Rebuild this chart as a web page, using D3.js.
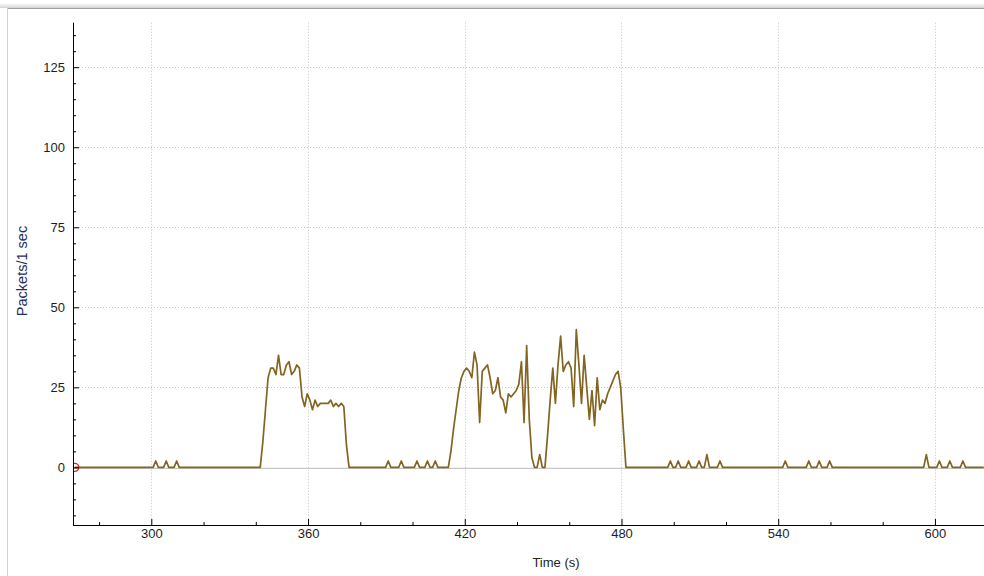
<!DOCTYPE html>
<html>
<head>
<meta charset="utf-8">
<script src="https://cdn.jsdelivr.net/npm/d3@7"></script>
<style>
  body { margin: 0; background: #fff; }
  svg { display: block; font-family: "Liberation Sans", Arial, sans-serif; }
</style>
</head>
<body>
<div id="chart"></div>
<script>
// samples are taken every second, 0.7 s after each whole second
const timeOffset = 0.7;
const firstSecond = 270;
const lastSecond = 618;

// first burst, one value per second from burstAStart
const burstAStart = 341;
const burstA = [0, 8, 18, 28, 31, 31, 29, 35, 29, 29, 32, 33, 29, 30, 32, 31, 22, 19, 23, 21,
                18, 21, 19, 20, 20, 20, 20, 21, 19, 20, 19, 20, 19, 7, 0];

// second burst, one value per second from burstBStart
const burstBStart = 413;
const burstB = [0, 5, 12, 18, 24, 28, 30, 31, 30, 28, 36, 32, 14, 30, 31, 32, 28, 23, 24, 28,
                22, 21, 17, 23, 22, 23, 24, 26, 33, 14, 38, 15, 3, 0, 0, 4, 0, 0, 10, 21,
                31, 20, 32, 41, 30, 32, 33, 31, 19, 43, 32, 20, 35, 25, 15, 24, 13, 28, 18, 21,
                20, 23, 25, 27, 29, 30, 25, 12, 0];

// single-second blips
const blipSeconds = [301, 305, 309, 390, 395, 401, 405, 408, 498, 501, 505, 509, 512, 517,
                     542, 551, 555, 559, 596, 601, 605, 610];
const blipCounts  = [2, 2, 2, 2, 2, 2, 2, 2, 2, 2, 2, 2, 4, 2,
                     2, 2, 2, 2, 4, 2, 2, 2];

const xTicks = [300, 360, 420, 480, 540, 600];
const yTicks = [0, 25, 50, 75, 100, 125];

function buildSeries() {
    const series = [];
    for (let s = firstSecond; s <= lastSecond; s++) {
        let v = 0;
        if (s >= burstAStart && s < burstAStart + burstA.length) v = burstA[s - burstAStart];
        if (s >= burstBStart && s < burstBStart + burstB.length) v = burstB[s - burstBStart];
        const b = blipSeconds.indexOf(s);
        if (b >= 0) v = blipCounts[b];
        series.push({ time: s + timeOffset, packets: v });
    }
    return series;
}

const width = 984, height = 576;
const plot = { left: 73, right: 984, top: 22.7, bottom: 525 };
const data = buildSeries();

const svg = d3.select("#chart")
    .append("svg")
    .attr("width", width)
    .attr("height", height);

//Frame
const defs = svg.append("defs");
const grad = defs.append("linearGradient")
    .attr("id", "shade").attr("x1", 0).attr("x2", 0).attr("y1", 0).attr("y2", 1);
grad.append("stop").attr("offset", "0%").attr("stop-color", "#ffffff");
grad.append("stop").attr("offset", "100%").attr("stop-color", "#d4d4d4");
svg.append("rect")
    .attr("x", 0).attr("y", 3).attr("width", width).attr("height", 5)
    .attr("fill", "url(#shade)");
svg.append("line")
    .attr("x1", 7).attr("x2", width).attr("y1", 8.5).attr("y2", 8.5)
    .attr("stroke", "#a0a0a0");
svg.append("line")
    .attr("x1", 7.5).attr("x2", 7.5).attr("y1", 8).attr("y2", height)
    .attr("stroke", "#d0d0d0");

defs.append("clipPath").attr("id", "plotClip")
    .append("rect")
    .attr("x", plot.left).attr("y", plot.top)
    .attr("width", plot.right - plot.left).attr("height", plot.bottom - plot.top);

// Scales
const xScale = d3.scaleLinear()
    .domain([270.02, 618.78])
    .range([plot.left, plot.right]);

const yScale = d3.scaleLinear()
    .domain([-18.0, 138.9])
    .range([plot.bottom, plot.top]);

//Grid
const grid = svg.append("g").attr("stroke", "#c4c4c4").attr("stroke-dasharray", "1,2");
grid.selectAll(".vgrid")
    .data(xTicks)
    .enter().append("line")
    .attr("x1", d => Math.round(xScale(d)) + 0.5)
    .attr("x2", d => Math.round(xScale(d)) + 0.5)
    .attr("y1", plot.top).attr("y2", plot.bottom);
grid.selectAll(".hgrid")
    .data(yTicks.filter(d => d !== 0))
    .enter().append("line")
    .attr("y1", d => Math.round(yScale(d)) + 0.5)
    .attr("y2", d => Math.round(yScale(d)) + 0.5)
    .attr("x1", plot.left).attr("x2", plot.right);

//Zero line
svg.append("line")
    .attr("x1", plot.left).attr("x2", plot.right)
    .attr("y1", yScale(0) + 1).attr("y2", yScale(0) + 1)
    .attr("stroke", "#c8c8c8").attr("stroke-width", 1.2);

//Data line
const line = d3.line()
    .x(d => xScale(d.time))
    .y(d => yScale(d.packets));

const plotArea = svg.append("g").attr("clip-path", "url(#plotClip)");
plotArea.append("path")
    .datum(data)
    .attr("fill", "none")
    .attr("stroke", "#836420")
    .attr("stroke-width", 1.7)
    .attr("stroke-linejoin", "round")
    .attr("d", line);

//Selected point marker
plotArea.append("circle")
    .attr("cx", xScale(data[0].time))
    .attr("cy", yScale(data[0].packets))
    .attr("r", 4)
    .attr("fill", "none")
    .attr("stroke", "#e02020")
    .attr("stroke-width", 1.3);

//Y axis
const yMinor = d3.range(-15, 139, 5).filter(d => yTicks.indexOf(d) < 0);
const yAxisG = svg.append("g").attr("transform", `translate(${plot.left}, 0)`);
yAxisG.call(d3.axisLeft(yScale).tickValues(yMinor).tickSize(-3).tickFormat(""));
yAxisG.append("g").call(d3.axisLeft(yScale).tickValues(yTicks).tickSize(-6).tickPadding(8));
yAxisG.selectAll(".domain").remove();
yAxisG.append("line")
    .attr("x1", 0.5).attr("x2", 0.5).attr("y1", plot.top).attr("y2", plot.bottom + 0.5)
    .attr("stroke", "#000");

//X axis
const xMinor = d3.range(280, 619, 20).filter(d => xTicks.indexOf(d) < 0);
const xAxisG = svg.append("g").attr("transform", `translate(0, ${plot.bottom})`);
xAxisG.call(d3.axisBottom(xScale).tickValues(xMinor).tickSize(-3).tickFormat(""));
xAxisG.append("g").call(d3.axisBottom(xScale).tickValues(xTicks).tickSize(-6).tickPadding(4));
xAxisG.selectAll(".domain").remove();
xAxisG.append("line")
    .attr("x1", plot.left).attr("x2", plot.right).attr("y1", 0.5).attr("y2", 0.5)
    .attr("stroke", "#000");

svg.selectAll(".tick line").attr("stroke", "#000");
svg.selectAll(".tick text")
    .attr("fill", "#1e1e1e")
    .style("font-size", "13px")
    .style("font-family", "'Liberation Sans', Arial, sans-serif");

//Axis titles
svg.append("text")
    .attr("text-anchor", "middle")
    .attr("transform", `translate(27, ${271}) rotate(-90)`)
    .attr("fill", "#1d2f66")
    .style("font-size", "14.5px")
    .text("Packets/1 sec");

svg.append("text")
    .attr("x", 556)
    .attr("y", 567)
    .attr("text-anchor", "middle")
    .attr("fill", "#222")
    .style("font-size", "13px")
    .text("Time (s)");
</script>
</body>
</html>
